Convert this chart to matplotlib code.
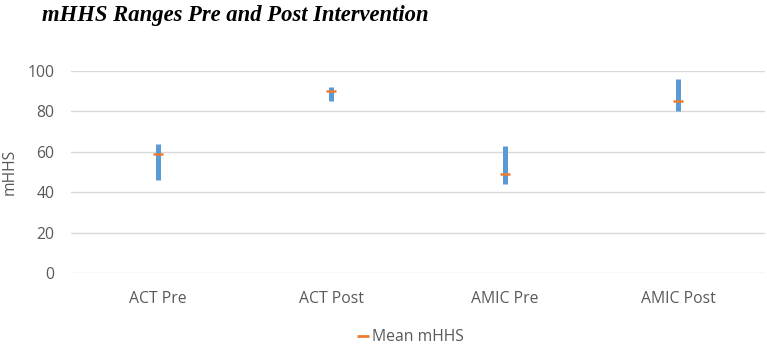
import matplotlib
matplotlib.use("Agg")
import matplotlib.pyplot as plt
from matplotlib.lines import Line2D

categories = ["ACT Pre", "ACT Post", "AMIC Pre", "AMIC Post"]
range_low = [46, 85, 44, 80]
range_high = [64, 92, 63, 96]
mean_mhhs = [59, 90, 49, 85]
y_ticks = [0, 20, 40, 60, 80, 100]

fig = plt.figure(figsize=(7.67, 3.46), dpi=100)
ax = fig.add_axes([0.0926, 0.210, 0.9048, 0.5855])

x = list(range(len(categories)))
ax.vlines(x, range_low, range_high, color="#5B9BD5", linewidth=3.6, zorder=3)
ax.plot(x, mean_mhhs, linestyle="none", marker="_", markersize=7.5,
        markeredgewidth=1.8, color="#ED7D31", zorder=4)

ax.set_xlim(-0.5, len(categories) - 0.5)
ax.set_ylim(0, 100)
ax.set_yticks(y_ticks)
ax.set_xticks(x)
ax.set_xticklabels(categories)
for s in ax.spines.values():
    s.set_visible(False)
ax.tick_params(axis="both", length=0, labelsize=11.3, labelcolor="#595959")
ax.tick_params(axis="y", pad=12)
ax.tick_params(axis="x", pad=13)
ax.yaxis.grid(True, color="#D9D9D9", linewidth=1.0)
ax.set_axisbelow(True)
for lab in ax.get_xticklabels() + ax.get_yticklabels():
    lab.set_family("Open Sans")

fig.text(0.0125, 0.503, "mHHS", fontsize=11.3, color="#595959", family="Open Sans",
         rotation=90, ha="center", va="center")

fig.text(0.055, 0.955, "mHHS Ranges Pre and Post Intervention", fontsize=16.3,
         family="Liberation Serif", weight="bold", style="italic",
         ha="left", va="center", color="black")

handle = Line2D([], [], linestyle="none", marker="_", markersize=9,
                markeredgewidth=2, color="#ED7D31")
fig.legend([handle], ["Mean mHHS"], loc="center", bbox_to_anchor=(0.535, 0.025),
           frameon=False, prop={"family": "Open Sans", "size": 11.3},
           labelcolor="#595959", handlelength=0.8, handletextpad=0.2)

fig.savefig("out.png", dpi=100)
